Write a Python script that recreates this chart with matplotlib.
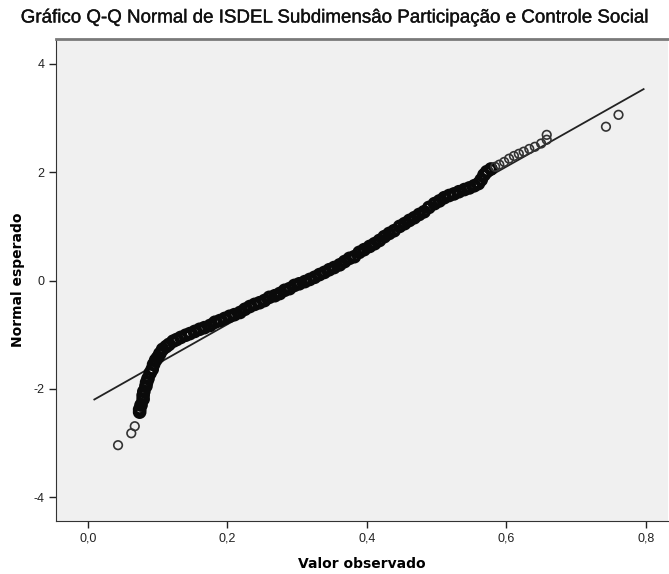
import matplotlib
matplotlib.use('Agg')
import matplotlib.pyplot as plt
import matplotlib.patheffects as pe

observado = [0.043, 0.062, 0.067, 0.074, 0.074, 0.076, 0.079, 0.079, 0.080, 0.083,
             0.084, 0.086, 0.089, 0.092, 0.094, 0.097, 0.100, 0.103, 0.107, 0.112,
             0.116, 0.122, 0.127, 0.133, 0.140, 0.146, 0.153, 0.160, 0.167, 0.175,
             0.182, 0.189, 0.196, 0.203, 0.210, 0.218, 0.225, 0.232, 0.239, 0.246,
             0.253, 0.260, 0.268, 0.275, 0.282, 0.289, 0.296, 0.303, 0.311, 0.318,
             0.325, 0.332, 0.339, 0.346, 0.353, 0.361, 0.368, 0.375, 0.382, 0.389,
             0.396, 0.404, 0.411, 0.418, 0.425, 0.432, 0.439, 0.447, 0.454, 0.461,
             0.468, 0.475, 0.482, 0.489, 0.497, 0.504, 0.511, 0.518, 0.525, 0.532,
             0.540, 0.547, 0.554, 0.560, 0.564, 0.568, 0.572, 0.578, 0.584, 0.590,
             0.597, 0.604, 0.611, 0.618, 0.625, 0.633, 0.641, 0.650, 0.658, 0.658,
             0.743, 0.761]
esperado = [-3.04, -2.82, -2.69, -2.43, -2.38, -2.30, -2.19, -2.12, -2.05, -1.95,
            -1.88, -1.81, -1.71, -1.64, -1.55, -1.47, -1.42, -1.35, -1.27, -1.22,
            -1.18, -1.12, -1.09, -1.05, -1.01, -0.98, -0.94, -0.90, -0.87, -0.83,
            -0.77, -0.74, -0.70, -0.66, -0.63, -0.59, -0.53, -0.48, -0.44, -0.41,
            -0.37, -0.31, -0.28, -0.24, -0.18, -0.15, -0.09, -0.06, -0.02, 0.02,
            0.06, 0.11, 0.15, 0.20, 0.24, 0.29, 0.35, 0.41, 0.44, 0.52,
            0.57, 0.63, 0.68, 0.74, 0.81, 0.87, 0.92, 1.00, 1.05, 1.11,
            1.16, 1.22, 1.27, 1.35, 1.42, 1.47, 1.53, 1.57, 1.60, 1.64,
            1.68, 1.71, 1.75, 1.79, 1.86, 1.95, 2.01, 2.06, 2.10, 2.14,
            2.19, 2.25, 2.30, 2.34, 2.38, 2.43, 2.47, 2.53, 2.60, 2.69,
            2.84, 3.06]

# reta de referencia (media e desvio padrao)
media = 0.311
desvio = 0.1375
reta_x = [0.009, 0.797]
reta_y = [(x - media) / desvio for x in reta_x]

xticks = [0.0, 0.2, 0.4, 0.6, 0.8]
xtick_labels = ['0,0', '0,2', '0,4', '0,6', '0,8']
yticks = [-4, -2, 0, 2, 4]
ytick_labels = ['-4', '-2', '0', '2', '4']

plt.rcParams['font.family'] = ['Liberation Sans', 'DejaVu Sans']

fig = plt.figure(figsize=(6.69, 5.74), dpi=100)
ax = fig.add_axes([56 / 669, 1 - 521 / 574, 612 / 669, 482 / 574])
ax.set_facecolor('#f0f0f0')

ax.plot(reta_x, reta_y, color='#222222', lw=1.3, zorder=2)

# parte densa da nuvem (circulos sobrepostos) e extremos isolados
a, b = 3, 88
ax.scatter(observado[a:b], esperado[a:b], s=48, facecolors='none', edgecolors='#0a0a0a',
           linewidths=2.9, zorder=3)
ax.scatter(observado[:a] + observado[b:], esperado[:a] + esperado[b:], s=38,
           facecolors='none', edgecolors='#333333', linewidths=1.2, zorder=3)

ax.set_xlim(-0.046, 0.832)
ax.set_ylim(-4.44, 4.46)
ax.set_xticks(xticks)
ax.set_xticklabels(xtick_labels)
ax.set_yticks(yticks)
ax.set_yticklabels(ytick_labels)
ax.tick_params(direction='out', length=5, width=1, labelsize=9, colors='#222222')

ax.spines['top'].set_color('#7a7a7a')
ax.spines['top'].set_linewidth(2)
ax.spines['right'].set_visible(False)
ax.spines['left'].set_color('#333333')
ax.spines['bottom'].set_color('#333333')

fig.text(0.5, 1 - 18 / 574, 'Gráfico Q-Q Normal de ISDEL Subdimensâo Participação e Controle Social',
         ha='center', va='center', fontsize=13.5, color='#111111',
         path_effects=[pe.withStroke(linewidth=0.25, foreground='#111111')])
ax.set_xlabel('Valor observado', fontsize=10, fontweight='bold', family='DejaVu Sans', labelpad=9)
ax.set_ylabel('Normal esperado', fontsize=10, fontweight='bold', family='DejaVu Sans', labelpad=6)

fig.savefig('out.png', dpi=100)
